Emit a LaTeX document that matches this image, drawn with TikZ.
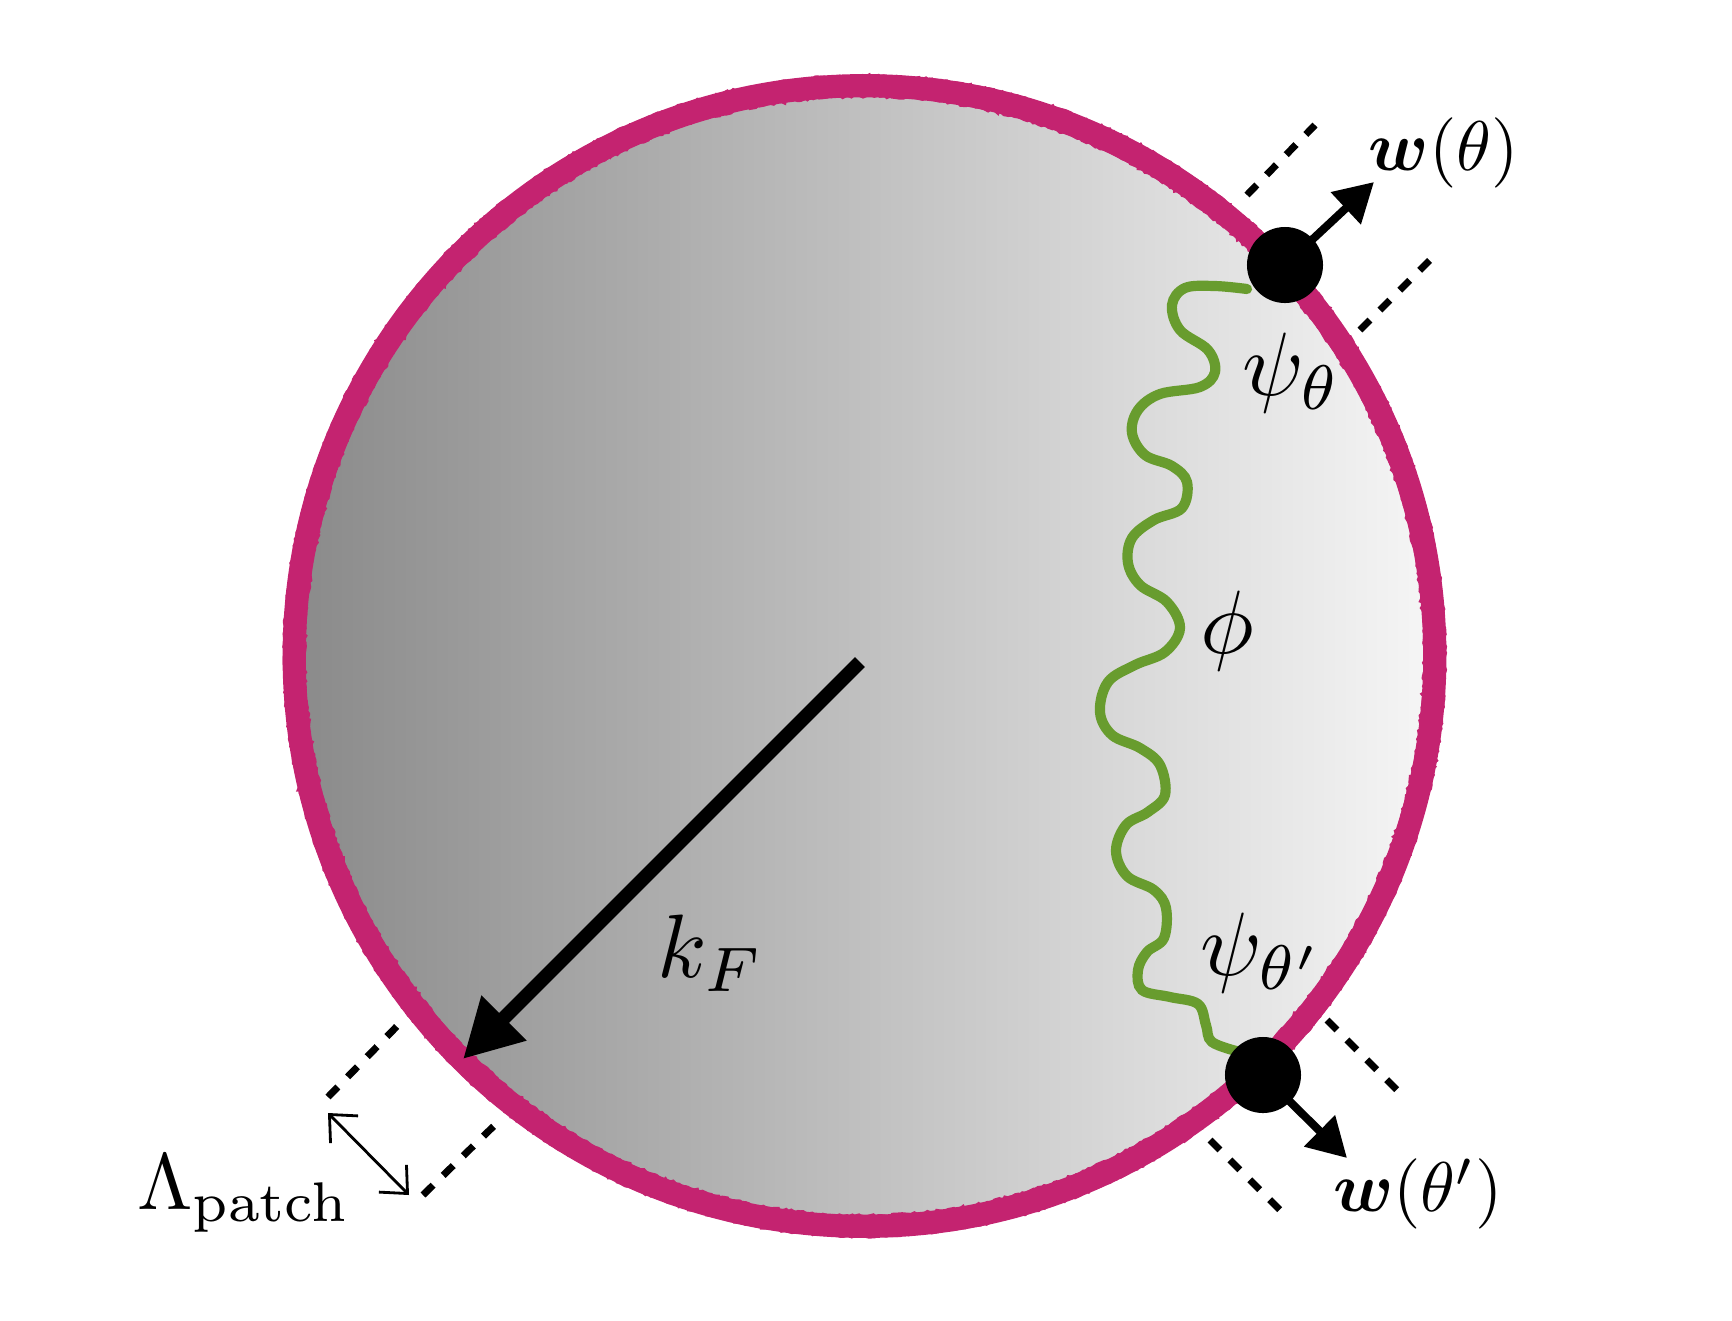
\RequirePackage{fix-cm}
\documentclass[tikz,border=0pt]{standalone}
\usepackage{amsmath,bm,graphicx}
\usetikzlibrary{arrows.meta,decorations.pathmorphing}
\definecolor{fspink}{RGB}{196,35,112}
\definecolor{wavegreen}{RGB}{104,156,46}
\definecolor{shadeL}{RGB}{138,138,138}
\definecolor{shadeR}{RGB}{246,246,246}
\newcommand{\lblbig}[1]{\scalebox{2.56}{$#1$}}
\newcommand{\lblmed}[1]{\scalebox{2.0}{$#1$}}
\newcommand{\lbllam}[1]{\scalebox{2.27}{$#1$}}
\begin{document}
\begin{tikzpicture}[x=0.01cm,y=-0.01cm,
  patchline/.style={line width=2pt, dash pattern=on 4pt off 4pt},
  dotnode/.style={circle, fill=black, inner sep=0pt, minimum size=0.76cm},
  velarrow/.style={line width=2.3pt, -{Triangle[length=11pt,width=12pt]}},
  roughedge/.style={fspink, line width=1.2pt, decorate,
     decoration={random steps, segment length=0.9pt, amplitude=0.45pt}},
  lbl/.style={font=\normalsize, inner sep=0pt}]
\pgfmathsetseed{7}
\useasboundingbox (0,0) rectangle (1732,1320);
% Fermi surface
\node[circle, draw=fspink, line width=6.6pt, left color=shadeL, right color=shadeR,
      minimum size=11.4cm, inner sep=0pt] (fs) at (864.5,656) {};
\draw[roughedge] (fs.center) circle[radius=579];
\draw[roughedge] (fs.center) circle[radius=561];
% patch boundaries
\draw[patchline] (1247,195) -- (1315,125);
\draw[patchline] (1360,330) -- (1433,257);
\draw[patchline] (1327,1020) -- (1397,1090);
\draw[patchline] (1210,1140) -- (1280,1210);
\draw[patchline] (328,1097) -- (403,1020);
\draw[patchline] (423,1195) -- (500,1120);
% wavy boson line
\draw[wavegreen, line width=2.9pt, line cap=round] plot[smooth, tension=0.6] coordinates {
(1247,289) (1215,286) (1185,288) (1172,305) (1180,330) (1208,350) (1215,372) (1200,387)
(1160,394) (1138,410) (1132,433) (1145,455) (1172,466) (1187,482) (1182,508) (1154,520)
(1132,538) (1128,563) (1140,585) (1167,602) (1180,628) (1165,652) (1135,665) (1108,682)
(1100,712) (1112,735) (1140,748) (1160,765) (1165,795) (1148,812) (1126,825) (1116,851)
(1127,876) (1154,890) (1166,908) (1164,938) (1147,952) (1138,970) (1142,990) (1170,997)
(1198,1004) (1206,1025) (1212,1042) (1240,1052)};
% fermions
\node[dotnode] (dA) at (1285,265) {};
\node[dotnode] (dB) at (1263,1075) {};
\coordinate (tA) at (1374,182);
\coordinate (tB) at (1347,1158);
\draw[velarrow] (dA.center) -- (tA);
\draw[velarrow] (dB.center) -- (tB);
% k_F arrow
\coordinate (kstart) at (860,662);
\coordinate (ktip) at (463,1059);
\draw[line width=4pt, -{Triangle[length=16.5pt,width=17pt]}] (kstart) -- (ktip);
% patch width arrow
\coordinate (la1) at (328,1113);
\coordinate (la2) at (409,1195);
\draw[line width=0.8pt, {Straight Barb[length=6pt,width=11pt]}-{Straight Barb[length=6pt,width=11pt]}] (la1) -- (la2);
% labels
\node[lbl] (wA) at (1444,153) {\lblmed{\bm{w}(\theta)}};
\node[lbl] (wB) at (1418,1194) {\lblmed{\bm{w}(\theta')}};
\node[lbl] (psiA) at (1292,373) {\lblbig{\psi_{\theta}}};
\node[lbl] (psiB) at (1262,953) {\lblbig{\psi_{\theta'}}};
\node[lbl] (phi) at (1227,631) {\lblbig{\phi}};
\node[lbl] (kF) at (711,953) {\lblbig{k_F}};
\node[lbl] (lam) at (244,1194) {\lbllam{\Lambda_{\text{patch}}}};
\end{tikzpicture}
\end{document}
